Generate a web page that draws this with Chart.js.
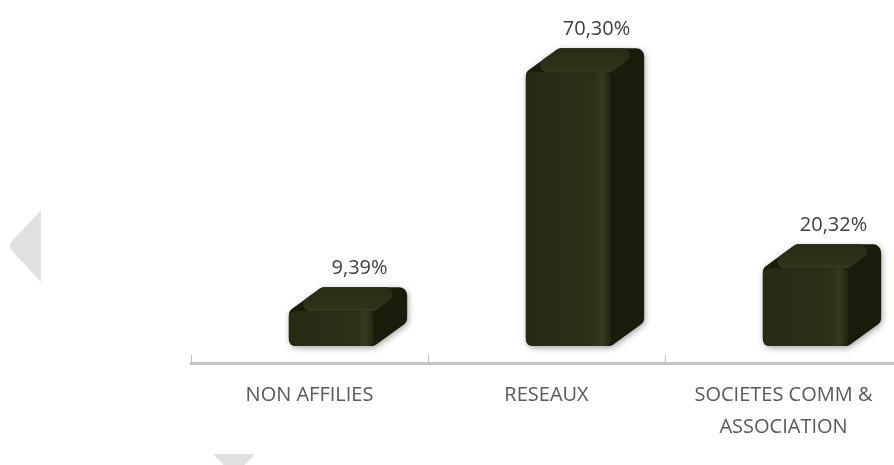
<!DOCTYPE html>
<html>
<head>
<meta charset="utf-8">
<script src="https://cdn.jsdelivr.net/npm/chart.js@4.4.0/dist/chart.umd.min.js"></script>
<style>
html, body { margin: 0; padding: 0; background: #fff; overflow: hidden; }
canvas { display: block; }
</style>
</head>
<body>
<canvas id="grafico" width="910" height="465"></canvas>
<script>
// datos
var categorias = ["NON AFFILIES", "RESEAUX", ["SOCIETES COMM &", "ASSOCIATION"]];
var porcentajes = [9.39, 70.30, 20.32];
var ejeMin = -3.8;
var ejeMax = 78.5;

// profundidad de las cajas 3D
var prof = { x: 33, y: 24, desplaz: 22 };

function poligonoRedondeado(ctx, pts, r) {
  var n = pts.length;
  ctx.beginPath();
  ctx.moveTo((pts[0][0] + pts[n - 1][0]) / 2, (pts[0][1] + pts[n - 1][1]) / 2);
  for (var i = 0; i < n; i++) {
    var p = pts[i], q = pts[(i + 1) % n];
    ctx.arcTo(p[0], p[1], q[0], q[1], r);
  }
  ctx.closePath();
}

// flechas grises de fondo
var decorado = {
  id: "decorado",
  beforeDraw(chart) {
    var ctx = chart.ctx;
    ctx.save();
    ctx.fillStyle = "#e0e0e0";
    ctx.beginPath();
    ctx.moveTo(41, 210);
    ctx.lineTo(41, 282);
    ctx.lineTo(13, 252);
    ctx.quadraticCurveTo(7, 246, 13, 240);
    ctx.closePath();
    ctx.fill();
    ctx.beginPath();
    ctx.moveTo(213, 454); ctx.lineTo(255, 454); ctx.lineTo(234, 476);
    ctx.closePath();
    ctx.fill();
    ctx.restore();
  }
};

var cajas3d = {
  id: "cajas3d",
  afterDatasetsDraw(chart) {
    var ctx = chart.ctx;
    var meta = chart.getDatasetMeta(0);
    meta.data.forEach(function (barra, i) {
      var p = barra.getProps(["x", "y", "base", "width"], true);
      var L = p.x - p.width / 2 + prof.desplaz, R = L + p.width, T = p.y, B = p.base - 2;
      var ox = prof.x, oy = prof.y;

      // silueta (lado derecho) con sombra
      ctx.save();
      ctx.shadowColor = "rgba(0,0,0,0.35)";
      ctx.shadowBlur = 6;
      ctx.shadowOffsetX = 1;
      ctx.shadowOffsetY = 2;
      poligonoRedondeado(ctx, [[L, B], [L, T], [L + ox, T - oy], [R + ox, T - oy], [R + ox, B - oy], [R, B]], 8);
      ctx.fillStyle = "#181c0a";
      ctx.fill();
      ctx.restore();

      // cara superior
      ctx.save();
      poligonoRedondeado(ctx, [[L, T], [L + ox, T - oy], [R + ox, T - oy], [R, T]], 7);
      var gs = ctx.createLinearGradient(0, T - oy, 0, T);
      gs.addColorStop(0, "#272d14");
      gs.addColorStop(0.85, "#2d3419");
      gs.addColorStop(1, "#363d21");
      ctx.fillStyle = gs;
      ctx.fill();
      ctx.restore();

      // cara frontal
      ctx.save();
      poligonoRedondeado(ctx, [[L, T], [R, T], [R, B], [L, B]], 6);
      var gf = ctx.createLinearGradient(L, 0, R, 0);
      gf.addColorStop(0, "#262c14");
      gf.addColorStop(0.8, "#2b3117");
      gf.addColorStop(0.9, "#343b1e");
      gf.addColorStop(1, "#1f2410");
      ctx.fillStyle = gf;
      ctx.fill();
      ctx.restore();

      // etiqueta de valor
      ctx.save();
      ctx.fillStyle = "#404040";
      ctx.font = "20px 'Open Sans'";
      ctx.textAlign = "center";
      ctx.textBaseline = "middle";
      var txt = porcentajes[i].toFixed(2).replace(".", ",") + "%";
      ctx.fillText(txt, (L + R) / 2 + ox * 0.85, T - oy - 19);
      ctx.restore();
    });
  },
  afterDraw(chart) {
    // marcas cortas hacia arriba en el eje
    var ctx = chart.ctx;
    var xs = chart.scales.x;
    var paso = xs.width / categorias.length;
    ctx.save();
    ctx.strokeStyle = "#bfbfbf";
    ctx.lineWidth = 1;
    for (var i = 0; i <= categorias.length; i++) {
      var x = Math.round(xs.getPixelForValue(0) - paso / 2 + i * paso) + 0.5;
      ctx.beginPath();
      ctx.moveTo(x, xs.top - 8);
      ctx.lineTo(x, xs.top);
      ctx.stroke();
    }
    ctx.restore();
  }
};

new Chart(document.getElementById("grafico"), {
  type: "bar",
  data: {
    labels: categorias,
    datasets: [{
      data: porcentajes,
      backgroundColor: "rgba(0,0,0,0)",
      barPercentage: 0.36,
      categoryPercentage: 1
    }]
  },
  options: {
    responsive: false,
    animation: false,
    layout: { padding: { left: 191, right: 8, top: 40, bottom: 0 } },
    plugins: {
      legend: { display: false },
      tooltip: { enabled: false }
    },
    scales: {
      x: {
        grid: { display: false },
        border: { display: true, color: "#c3c3c3", width: 3 },
        ticks: {
          color: "#595959",
          font: { family: "'Open Sans'", size: 20, lineHeight: 1.6 },
          padding: 8,
          maxRotation: 0,
          autoSkip: false
        },
        afterFit: function (s) { s.height = 102; }
      },
      y: { display: false, min: ejeMin, max: ejeMax }
    }
  },
  plugins: [decorado, cajas3d]
});
</script>
</body>
</html>
